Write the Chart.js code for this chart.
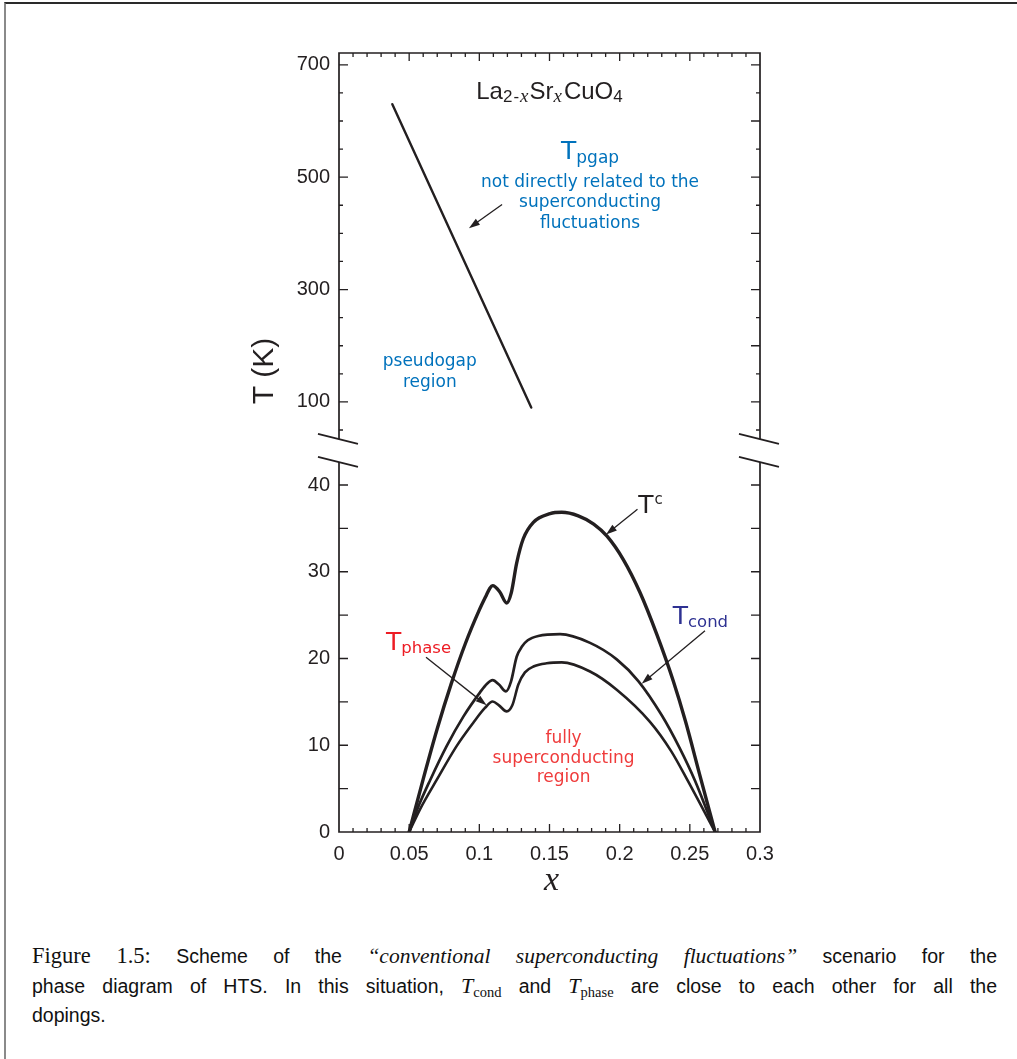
<!DOCTYPE html>
<html>
<head>
<meta charset="utf-8">
<title>La2-xSrxCuO4 phase diagram</title>
<script src="https://cdn.jsdelivr.net/npm/chart.js@4.4.0/dist/chart.umd.min.js"></script>
<style>
  html, body { margin: 0; padding: 0; background: #fff; }
  body { width: 1017px; height: 1059px; position: relative; overflow: hidden; }
  .page { position: absolute; left: 4px; top: 2px; width: 1030px; height: 1080px;
          border-top: 2px solid #2a2a2a; border-left: 2px solid #8a8a8a; }
  #upper { position: absolute; left: 0; top: 0; }
  #lower { position: absolute; left: 0; top: 440px; }
  .caption { position: absolute; left: 32px; top: 941px; width: 965px;
             font-family: 'Liberation Sans', sans-serif; font-size: 19.5px; line-height: 29px; color: #111; }
  .caption .ln { text-align: justify; text-align-last: justify; }
  .caption .ln.last { text-align-last: left; }
  .caption .rm { font-family: 'Liberation Serif', serif; font-size: 22.5px; }
  .caption .it { font-family: 'Liberation Serif', serif; font-style: italic; font-size: 21.5px; }
  .caption .m { font-family: 'Liberation Serif', serif; font-style: italic; font-size: 22px; }
  .caption sub { font-family: 'Liberation Serif', serif; font-size: 14.5px; vertical-align: -4px; line-height: 0; }
</style>
</head>
<body>
<div class="page"></div>
<canvas id="upper" width="1017" height="460"></canvas>
<canvas id="lower" width="1017" height="470"></canvas>
<div class="caption">
  <div class="ln"><span class="rm">Figure 1.5:</span> Scheme of the <span class="it">“conventional superconducting fluctuations”</span> scenario for the</div>
  <div class="ln">phase diagram of HTS. In this situation, <span class="m">T</span><sub>cond</sub> and <span class="m">T</span><sub>phase</sub> are close to each other for all the</div>
  <div class="ln last">dopings.</div>
</div>
<script>
// pseudogap line (upper panel, K)
const pgapX = [0.038, 0.137];
const pgapT = [630, 90];

// T^c dome
const tcX = [0.05, 0.06, 0.07, 0.08, 0.09, 0.10, 0.105, 0.1075, 0.1095, 0.1145, 0.1195, 0.1228, 0.1266, 0.1313, 0.1385,
             0.1504, 0.1587, 0.1705, 0.1815, 0.191, 0.2026, 0.2145, 0.2264, 0.2382, 0.247, 0.2572, 0.268];
const tcT = [0, 6.1, 11.9, 17.1, 21.7, 25.6, 27.3, 28.1, 28.4, 27.7, 26.4, 27.6, 31.0, 33.8, 35.7,
             36.7, 36.85, 36.45, 35.5, 34.1, 31.4, 27.6, 22.8, 17.4, 12.7, 6.5, 0];

// T_cond
const condX = [0.05, 0.057, 0.065, 0.0767, 0.0886, 0.1005, 0.1055, 0.1095, 0.114, 0.119, 0.1225, 0.1266, 0.1305,
               0.1345, 0.142, 0.1575, 0.1789, 0.1979, 0.2133, 0.23, 0.2425, 0.2537, 0.268];
const condT = [0, 3.1, 6.0, 9.9, 13.3, 16.1, 17.1, 17.5, 17.0, 16.2, 17.3, 20.2, 21.4,
               22.1, 22.6, 22.8, 21.8, 19.9, 17.4, 13.45, 9.75, 5.9, 0];

// T_phase
const phaseX = [0.05, 0.058, 0.0696, 0.0838, 0.0957, 0.104, 0.1095, 0.114, 0.1195, 0.1235, 0.1278, 0.1325, 0.139,
                0.148, 0.1587, 0.1789, 0.1979, 0.2216, 0.2368, 0.2489, 0.268];
const phaseT = [0, 2.7, 6.0, 9.9, 12.6, 14.3, 15.05, 14.6, 13.9, 14.6, 17.0, 18.4, 19.1,
                19.45, 19.55, 18.5, 16.4, 12.7, 9.3, 5.8, 0];

// axis ticks
const upperTicks = [100, 300, 500, 700];
const lowerTicks = [0, 10, 20, 30, 40];
const xTicks = [0, 0.05, 0.1, 0.15, 0.2, 0.25, 0.3];

const INK = '#231f20';
const BLUE = '#0072bc';
const RED = '#ed1c24';
const INDIGO = '#2e3192';
const SANS = "'DejaVu Sans', sans-serif";

const pts = (xs, ys) => xs.map((x, i) => ({ x, y: ys[i] }));

function curve(xs, ys, width) {
  return {
    data: pts(xs, ys), borderColor: INK, borderWidth: width, pointRadius: 0,
    cubicInterpolationMode: 'monotone', borderCapStyle: 'round', borderJoinStyle: 'round', fill: false,
  };
}

// text made of pieces (main text, sub/superscripts)
function runs(ctx, x, y, parts, align) {
  let w = 0;
  parts.forEach((p) => { ctx.font = p.font; p.w = ctx.measureText(p.t).width; w += p.w + (p.gap || 0); });
  let cx = align === 'center' ? x - w / 2 : x;
  ctx.textAlign = 'left';
  ctx.textBaseline = 'alphabetic';
  parts.forEach((p) => {
    ctx.font = p.font;
    ctx.fillStyle = p.color;
    ctx.fillText(p.t, cx, y + (p.dy || 0));
    cx += p.w + (p.gap || 0);
  });
}

function lines(ctx, x, ys, texts, font, color) {
  ctx.font = font;
  ctx.fillStyle = color;
  ctx.textAlign = 'center';
  ctx.textBaseline = 'alphabetic';
  texts.forEach((t, i) => ctx.fillText(t, x, ys[i]));
}

function arrow(ctx, x1, y1, x2, y2) {
  const a = Math.atan2(y2 - y1, x2 - x1);
  const len = 11, half = 3.6;
  ctx.strokeStyle = INK;
  ctx.fillStyle = INK;
  ctx.lineWidth = 1.3;
  ctx.beginPath();
  ctx.moveTo(x1, y1);
  ctx.lineTo(x2 - Math.cos(a) * len * 0.8, y2 - Math.sin(a) * len * 0.8);
  ctx.stroke();
  ctx.beginPath();
  ctx.moveTo(x2, y2);
  ctx.lineTo(x2 - Math.cos(a) * len - Math.sin(a) * half, y2 - Math.sin(a) * len + Math.cos(a) * half);
  ctx.lineTo(x2 - Math.cos(a) * len + Math.sin(a) * half, y2 - Math.sin(a) * len - Math.cos(a) * half);
  ctx.closePath();
  ctx.fill();
}

// slanted stroke across a broken axis
function breakMark(ctx, cx, cy) {
  ctx.save();
  ctx.strokeStyle = INK;
  ctx.lineWidth = 1.8;
  ctx.beginPath();
  ctx.moveTo(cx - 21, cy - 5.2);
  ctx.lineTo(cx + 19, cy + 4.8);
  ctx.stroke();
  ctx.restore();
}

const upperDeco = {
  id: 'upperDeco',
  afterDraw(chart) {
    const { ctx, chartArea: a, scales: { x, y } } = chart;
    const P = (vx, vy) => [x.getPixelForValue(vx), y.getPixelForValue(vy)];
    ctx.save();
    // frame, open at the bottom where the axis is broken
    ctx.strokeStyle = INK;
    ctx.lineWidth = 1.7;
    ctx.beginPath();
    ctx.moveTo(a.left, a.bottom); ctx.lineTo(a.left, a.top); ctx.lineTo(a.right, a.top); ctx.lineTo(a.right, a.bottom);
    ctx.stroke();
    ctx.lineWidth = 1.3;
    ctx.beginPath();
    for (let i = 1; i < 30; i++) {
      const px = x.getPixelForValue(i / 100);
      ctx.moveTo(px, a.top); ctx.lineTo(px, a.top + (i % 5 === 0 ? 8 : 4));
    }
    for (let v = 50; v <= 700; v += 50) {
      const py = y.getPixelForValue(v);
      ctx.moveTo(a.left, py); ctx.lineTo(a.left + (upperTicks.includes(v) ? 9 : 4), py);
      ctx.moveTo(a.right, py); ctx.lineTo(a.right - (v % 100 === 0 ? 9 : 4), py);
    }
    ctx.stroke();
    breakMark(ctx, a.left, a.bottom);
    breakMark(ctx, a.right, a.bottom);

    // y axis title
    ctx.save();
    ctx.translate(265, 371);
    ctx.rotate(-Math.PI / 2);
    ctx.font = "30px 'Liberation Sans', sans-serif";
    ctx.fillStyle = INK;
    ctx.textAlign = 'center';
    ctx.textBaseline = 'middle';
    ctx.fillText('T (K)', 0, 0);
    ctx.restore();

    // compound name
    const [lx, ly] = P(0.15, 639);
    const big = "24px 'Liberation Sans', sans-serif", sub = "17px 'Liberation Sans', sans-serif";
    const ix = "italic 19px 'Liberation Serif', serif";
    runs(ctx, lx, ly, [
      { t: 'La', font: big, color: INK },
      { t: '2', font: sub, color: INK, dy: 3, gap: 1 },
      { t: '-', font: sub, color: INK, dy: 3, gap: 1 },
      { t: 'x', font: ix, color: INK, dy: 3, gap: 1 },
      { t: 'Sr', font: big, color: INK },
      { t: 'x', font: ix, color: INK, dy: 3, gap: 2 },
      { t: 'CuO', font: big, color: INK },
      { t: '4', font: sub, color: INK, dy: 3 },
    ], 'center');

    // T_pgap and its note
    const [tx, ty] = P(0.1789, 532.6);
    runs(ctx, tx, ty, [
      { t: 'T', font: '25px ' + SANS, color: BLUE },
      { t: 'pgap', font: '17px ' + SANS, color: BLUE, dy: 4 },
    ], 'center');
    lines(ctx, tx, [483.3, 446.3, 409.3].map((v) => y.getPixelForValue(v)),
      ['not directly related to the', 'superconducting', 'fluctuations'], '17px ' + SANS, BLUE);
    arrow(ctx, ...P(0.1162, 451.5), ...P(0.0926, 409.3));

    const [gx] = P(0.0647, 0);
    lines(ctx, gx, [163.8, 127.3].map((v) => y.getPixelForValue(v)),
      ['pseudogap', 'region'], '17px ' + SANS, BLUE);
    ctx.restore();
  },
};

const lowerDeco = {
  id: 'lowerDeco',
  afterDraw(chart) {
    const { ctx, chartArea: a, scales: { x, y } } = chart;
    const P = (vx, vy) => [x.getPixelForValue(vx), y.getPixelForValue(vy)];
    ctx.save();
    ctx.strokeStyle = INK;
    ctx.lineWidth = 1.7;
    ctx.beginPath();
    ctx.moveTo(a.left, a.top); ctx.lineTo(a.left, a.bottom); ctx.lineTo(a.right, a.bottom); ctx.lineTo(a.right, a.top);
    ctx.stroke();
    ctx.lineWidth = 1.3;
    ctx.beginPath();
    for (let i = 1; i < 30; i++) {
      const px = x.getPixelForValue(i / 100);
      ctx.moveTo(px, a.bottom); ctx.lineTo(px, a.bottom - (i % 5 === 0 ? 8 : 4));
    }
    for (let v = 5; v <= 40; v += 5) {
      const py = y.getPixelForValue(v);
      ctx.moveTo(a.left, py); ctx.lineTo(a.left + 9, py);
      ctx.moveTo(a.right, py); ctx.lineTo(a.right - 9, py);
    }
    ctx.stroke();
    breakMark(ctx, a.left, a.top);
    breakMark(ctx, a.right, a.top);

    // x axis title
    ctx.font = "italic 34px 'Liberation Serif', serif";
    ctx.fillStyle = INK;
    ctx.textAlign = 'center';
    ctx.textBaseline = 'alphabetic';
    ctx.fillText('x', (a.left + a.right) / 2 + 2, a.bottom + 58);

    // curve labels
    runs(ctx, ...P(0.2133, 36.74), [
      { t: 'T', font: '25px ' + SANS, color: INK, gap: 1 },
      { t: 'c', font: '15px ' + SANS, color: INK, dy: -9 },
    ]);
    arrow(ctx, ...P(0.2127, 37.2), ...P(0.1903, 34.3));

    runs(ctx, ...P(0.2378, 23.98), [
      { t: 'T', font: '25px ' + SANS, color: INDIGO },
      { t: 'cond', font: '16.5px ' + SANS, color: INDIGO, dy: 3 },
    ]);
    arrow(ctx, ...P(0.2608, 23.2), ...P(0.2157, 17.1));

    runs(ctx, ...P(0.0335, 20.98), [
      { t: 'T', font: '25px ' + SANS, color: RED },
      { t: 'phase', font: '16.5px ' + SANS, color: RED, dy: 3 },
    ]);
    arrow(ctx, ...P(0.062, 20.14), ...P(0.1052, 14.6));

    const [fx] = P(0.16, 0);
    lines(ctx, fx, [10.26, 7.95, 5.76].map((v) => y.getPixelForValue(v)),
      ['fully', 'superconducting', 'region'], '17px ' + SANS, '#ef3b3b');
    ctx.restore();
  },
};

const tickFont = { family: "'Liberation Sans', sans-serif", size: 20 };

new Chart(document.getElementById('upper'), {
  type: 'line',
  data: { datasets: [curve(pgapX, pgapT, 2.4)] },
  options: {
    responsive: false, animation: false, events: [],
    layout: { padding: { left: 289, right: 257, top: 53, bottom: 17 } },
    plugins: { legend: { display: false }, tooltip: { enabled: false } },
    scales: {
      x: { type: 'linear', min: 0, max: 0.3, display: false },
      y: {
        type: 'linear', min: 34, max: 721,
        afterFit(s) { s.width = 50; },
        afterBuildTicks(s) { s.ticks = upperTicks.map((v) => ({ value: v })); },
        grid: { display: false, drawTicks: false }, border: { display: false },
        ticks: { padding: 9, color: INK, font: tickFont },
      },
    },
  },
  plugins: [upperDeco],
});

new Chart(document.getElementById('lower'), {
  type: 'line',
  data: { datasets: [curve(tcX, tcT, 3.4), curve(condX, condT, 2.7), curve(phaseX, phaseT, 2.6)] },
  options: {
    responsive: false, animation: false, events: [],
    layout: { padding: { left: 289, right: 257, top: 22, bottom: 0 } },
    plugins: { legend: { display: false }, tooltip: { enabled: false } },
    scales: {
      x: {
        type: 'linear', min: 0, max: 0.3,
        afterFit(s) { s.height = 78; },
        afterBuildTicks(s) { s.ticks = xTicks.map((v) => ({ value: v })); },
        grid: { display: false, drawTicks: false }, border: { display: false },
        ticks: { padding: 10, color: INK, font: tickFont, maxRotation: 0, autoSkip: false, callback: (v) => String(v) },
      },
      y: {
        type: 'linear', min: 0, max: 42.65,
        afterFit(s) { s.width = 50; },
        afterBuildTicks(s) { s.ticks = lowerTicks.map((v) => ({ value: v })); },
        grid: { display: false, drawTicks: false }, border: { display: false },
        ticks: { padding: 9, color: INK, font: tickFont },
      },
    },
  },
  plugins: [lowerDeco],
});
</script>
</body>
</html>
